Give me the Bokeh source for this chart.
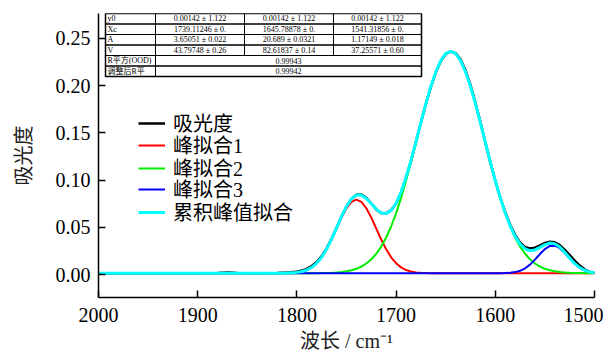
from bokeh.plotting import figure
from bokeh.models import (Range1d, FixedTicker, NumeralTickFormatter, BoxAnnotation, Label,
                          Legend, LegendItem)
from bokeh.embed import file_html
from bokeh.resources import INLINE

# ---------------- data ----------------
wavenumber = [2000, 1950, 1900, 1880, 1870, 1860, 1840, 1820, 1810,
              1800, 1795, 1790, 1785, 1780, 1775, 1770, 1765, 1760, 1755,
              1750, 1745, 1740, 1735, 1730, 1725, 1720, 1715, 1710, 1705,
              1700, 1695, 1690, 1685, 1680, 1675, 1670, 1665, 1660, 1655,
              1650, 1645, 1640, 1635, 1630, 1625, 1620, 1615, 1610, 1605,
              1600, 1595, 1590, 1585, 1580, 1575, 1570, 1565, 1560, 1555,
              1550, 1545, 1540, 1535, 1530, 1525, 1520, 1515, 1510, 1505, 1500]

absorbance = [0.0014, 0.0013, 0.0015, 0.0017, 0.0023, 0.0016, 0.0014, 0.0016, 0.0021,
              0.0030, 0.0042, 0.0060, 0.0090, 0.0133, 0.0195, 0.0278, 0.0380, 0.0495, 0.0614,
              0.0720, 0.0800, 0.0845, 0.0848, 0.0812, 0.0752, 0.0690, 0.0652, 0.0650, 0.0680,
              0.0752, 0.0868, 0.1020, 0.1200, 0.1402, 0.1608, 0.1806, 0.1985, 0.2138, 0.2258,
              0.2333, 0.2362, 0.2345, 0.2278, 0.2162, 0.2005, 0.1818, 0.1612, 0.1398, 0.1188,
              0.0992, 0.0815, 0.0660, 0.0528, 0.0420, 0.0338, 0.0290, 0.0275, 0.0285, 0.0308,
              0.0334, 0.0348, 0.0342, 0.0312, 0.0262, 0.0205, 0.0148, 0.0095, 0.0055, 0.0030, 0.0018]

peak1 = [0.0014, 0.0014, 0.0014, 0.0014, 0.0014, 0.0014, 0.0014, 0.0014, 0.0016,
         0.0023, 0.0032, 0.0048, 0.0076, 0.0120, 0.0183, 0.0267, 0.0371, 0.0487, 0.0603,
         0.0702, 0.0770, 0.0794, 0.0770, 0.0702, 0.0603, 0.0487, 0.0371, 0.0267, 0.0183,
         0.0120, 0.0076, 0.0048, 0.0032, 0.0023, 0.0018, 0.0016, 0.0015, 0.0014, 0.0014,
         0.0014, 0.0014, 0.0014, 0.0014, 0.0014, 0.0014, 0.0014, 0.0014, 0.0014, 0.0014,
         0.0014, 0.0014, 0.0014, 0.0014, 0.0014, 0.0014, 0.0014, 0.0014, 0.0014, 0.0014,
         0.0014, 0.0014, 0.0014, 0.0014, 0.0014, 0.0014, 0.0014, 0.0014, 0.0014, 0.0014, 0.0014]

peak2 = [0.0014, 0.0014, 0.0014, 0.0014, 0.0014, 0.0014, 0.0014, 0.0014, 0.0014,
         0.0014, 0.0014, 0.0014, 0.0014, 0.0015, 0.0016, 0.0017, 0.0019, 0.0022, 0.0027,
         0.0034, 0.0045, 0.0061, 0.0085, 0.0117, 0.0161, 0.0220, 0.0296, 0.0392, 0.0509,
         0.0649, 0.0811, 0.0993, 0.1190, 0.1397, 0.1606, 0.1807, 0.1991, 0.2146, 0.2265,
         0.2339, 0.2364, 0.2339, 0.2265, 0.2146, 0.1991, 0.1807, 0.1606, 0.1397, 0.1190,
         0.0993, 0.0811, 0.0649, 0.0509, 0.0392, 0.0296, 0.0220, 0.0161, 0.0117, 0.0085,
         0.0061, 0.0045, 0.0034, 0.0027, 0.0022, 0.0019, 0.0017, 0.0016, 0.0015, 0.0014, 0.0014]

peak3 = [0.0014, 0.0014, 0.0014, 0.0014, 0.0014, 0.0014, 0.0014, 0.0014, 0.0014,
         0.0014, 0.0014, 0.0014, 0.0014, 0.0014, 0.0014, 0.0014, 0.0014, 0.0014, 0.0014,
         0.0014, 0.0014, 0.0014, 0.0014, 0.0014, 0.0014, 0.0014, 0.0014, 0.0014, 0.0014,
         0.0014, 0.0014, 0.0014, 0.0014, 0.0014, 0.0014, 0.0014, 0.0014, 0.0014, 0.0014,
         0.0014, 0.0014, 0.0014, 0.0014, 0.0014, 0.0014, 0.0014, 0.0014, 0.0014, 0.0014,
         0.0014, 0.0015, 0.0016, 0.0019, 0.0026, 0.0040, 0.0066, 0.0105, 0.0158, 0.0217,
         0.0270, 0.0303, 0.0306, 0.0279, 0.0228, 0.0169, 0.0115, 0.0072, 0.0044, 0.0028, 0.0020]

cumulative = [0.0014, 0.0014, 0.0014, 0.0014, 0.0014, 0.0014, 0.0014, 0.0014, 0.0016,
              0.0023, 0.0032, 0.0048, 0.0076, 0.0121, 0.0185, 0.0270, 0.0376, 0.0495, 0.0616,
              0.0722, 0.0801, 0.0841, 0.0841, 0.0805, 0.0750, 0.0693, 0.0653, 0.0645, 0.0678,
              0.0755, 0.0873, 0.1027, 0.1208, 0.1406, 0.1610, 0.1809, 0.1992, 0.2146, 0.2265,
              0.2339, 0.2364, 0.2339, 0.2265, 0.2146, 0.1991, 0.1807, 0.1606, 0.1397, 0.1190,
              0.0993, 0.0812, 0.0651, 0.0514, 0.0404, 0.0322, 0.0272, 0.0252, 0.0261, 0.0288,
              0.0317, 0.0334, 0.0326, 0.0292, 0.0236, 0.0174, 0.0118, 0.0074, 0.0045, 0.0028, 0.0020]

x_ticks = [2000, 1900, 1800, 1700, 1600, 1500]
y_ticks = [0.00, 0.05, 0.10, 0.15, 0.20, 0.25]

series_names = ["吸光度", "峰拟合1", "峰拟合2", "峰拟合3", "累积峰值拟合"]
x_title = "波长 / cm⁻¹"
y_title = "吸光度"

table_row_labels = ["y0", "Xc", "A", "V", "R平方(OOD)", "调整后R平"]
peak1_params = ["0.00142 ± 1.122", "1739.11246 ± 0.", "3.65051 ± 0.022", "43.79748 ± 0.26"]
peak2_params = ["0.00142 ± 1.122", "1645.78878 ± 0.", "20.689 ± 0.0321", "82.61837 ± 0.14"]
peak3_params = ["0.00142 ± 1.122", "1541.31856 ± 0.", "1.17149 ± 0.018", "37.25571 ± 0.60"]
fit_stats = ["0.99943", "0.99942"]

for s in (absorbance, peak1, peak2, peak3, cumulative):
    assert len(s) == len(wavenumber)

# ---------------- figure ----------------
SERIF = "'Liberation Serif', 'Noto Sans CJK SC', serif"
TIMES = "'Liberation Serif', serif"

W, H = 603, 354
BL, BR, BT, BB = 98, 9, 13, 56
p = figure(width=W, height=H, output_backend="svg", toolbar_location=None,
           x_range=Range1d(2000, 1500), y_range=Range1d(-0.0243, 0.2764),
           min_border_left=BL, min_border_right=BR, min_border_top=BT, min_border_bottom=BB)

p.outline_line_color = None
p.xgrid.visible = False
p.ygrid.visible = False
p.background_fill_color = "white"

colors = ["#000000", "#ff0000", "#00ee00", "#0000ff", "#00ffff"]
widths = [2.5, 2, 2, 2, 3]
renderers = []
for ys, c, w in zip([absorbance, peak1, peak2, peak3, cumulative], colors, widths):
    renderers.append(p.line(wavenumber, ys, line_color=c, line_width=w))

# axes
p.xaxis.ticker = FixedTicker(ticks=x_ticks)
p.yaxis.ticker = FixedTicker(ticks=y_ticks)
p.yaxis.formatter = NumeralTickFormatter(format="0.00")
for ax in (p.xaxis, p.yaxis):
    ax.axis_line_color = "black"
    ax.axis_line_width = 1.5
    ax.major_tick_line_color = "black"
    ax.major_tick_line_width = 1.5
    ax.major_tick_in = 7
    ax.major_tick_out = 0
    ax.minor_tick_in = 0
    ax.minor_tick_out = 0
    ax.major_label_text_font = TIMES
    ax.major_label_text_font_size = "20px"
    ax.major_label_text_color = "black"
    ax.axis_label_text_font = SERIF
    ax.axis_label_text_font_size = "20px"
    ax.axis_label_text_font_style = "normal"
    ax.axis_label_text_color = "#222222"

p.xaxis.axis_label = x_title
p.yaxis.axis_label = y_title
p.xaxis.major_label_standoff = 10
p.yaxis.major_label_standoff = 8
p.xaxis.axis_label_standoff = 5
p.yaxis.axis_label_standoff = 18

# legend: one single-row legend per series so the row pitch matches the original
legend_y = [160, 138, 115, 94, 71]
for r, name, ly in zip(renderers, series_names, legend_y):
    lg = Legend(items=[LegendItem(label=name, renderers=[r])], location=(40, ly))
    lg.border_line_color = None
    lg.background_fill_alpha = 0
    lg.padding = 0
    lg.margin = 0
    lg.glyph_width = 27
    lg.glyph_height = 20
    lg.label_height = 20
    lg.label_standoff = 8
    lg.label_text_font = SERIF
    lg.label_text_font_size = "20px"
    lg.label_text_color = "black"
    p.add_layout(lg)

# parameter table (screen units from the frame's bottom-left corner)
col_edges = [7, 57, 146, 235, 323]
row_edges = [284, 273.5, 263, 252.5, 242, 231.5, 221]

def cell(l, r, t, b, lw=1):
    p.add_layout(BoxAnnotation(left=l, right=r, top=t, bottom=b,
                               left_units="screen", right_units="screen",
                               top_units="screen", bottom_units="screen",
                               fill_alpha=0, line_color="black", line_alpha=1,
                               line_width=lw))

def txt(x, y, s, align):
    p.add_layout(Label(x=x, y=y, x_units="screen", y_units="screen", text=s,
                       text_font=SERIF, text_font_size="8px", text_color="black",
                       text_align=align, text_baseline="middle"))

for i, lab in enumerate(table_row_labels):
    t, b = row_edges[i], row_edges[i + 1]
    ym = (t + b) / 2
    cell(col_edges[0], col_edges[1], t, b)
    txt(col_edges[0] + 2, ym, lab, "left")
    if i < 4:
        for j, params in enumerate([peak1_params, peak2_params, peak3_params]):
            cell(col_edges[j + 1], col_edges[j + 2], t, b)
            txt((col_edges[j + 1] + col_edges[j + 2]) / 2, ym, params[i], "center")
    else:
        cell(col_edges[1], col_edges[4], t, b)
        txt((col_edges[1] + col_edges[4]) / 2, ym, fit_stats[i - 4], "center")

cell(col_edges[0], col_edges[4], row_edges[0], row_edges[-1], lw=1.5)

open("out.html", "w").write(file_html(p, INLINE))
